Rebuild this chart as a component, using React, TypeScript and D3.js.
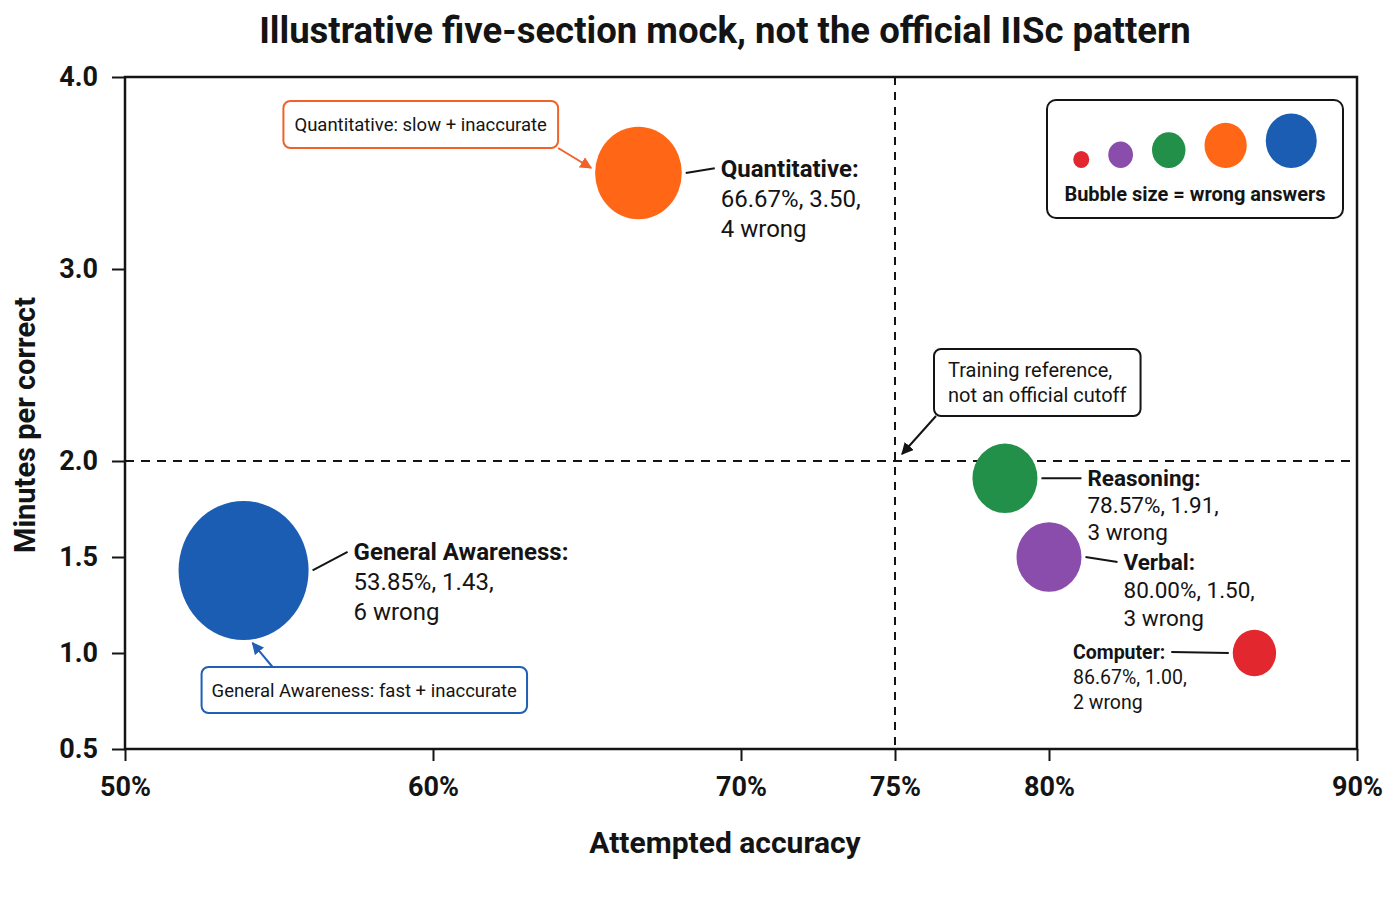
import React, { useEffect, useRef } from "react";
import * as d3 from "d3";

// section data
const sections = ["Quantitative", "General Awareness", "Reasoning", "Verbal", "Computer"];
const accuracy = [66.67, 53.85, 78.57, 80.0, 86.67];
const minutesPerCorrect = [3.5, 1.43, 1.91, 1.5, 1.0];
const wrongAnswers = [4, 6, 3, 3, 2];
const sectionColors = ["#ff6616", "#1b5db2", "#23904a", "#8a4dab", "#e2282e"];

const xTicks = [50, 60, 70, 75, 80, 90];
const yTicks = [0.5, 1.0, 1.5, 2.0, 3.0, 4.0];
const accuracyRef = 75;
const minutesRef = 2.0;

const legendSteps = [2, 3, 4, 5, 6];
const legendColors = ["#e2282e", "#8a4dab", "#23904a", "#ff6616", "#1b5db2"];

const FONT = 'Roboto, "Liberation Sans", "DejaVu Sans", sans-serif';
const INK = "#141414";

// label placement per section (side: 1 = right of bubble, -1 = left)
const labelLayout: Record<string, { side: number; gap: number; dy: number; size: number; lh: number }> = {
  Quantitative: { side: 1, gap: 39, dy: 4, size: 24, lh: 30 },
  "General Awareness": { side: 1, gap: 45, dy: -10, size: 24, lh: 30 },
  Reasoning: { side: 1, gap: 50, dy: 8, size: 22.5, lh: 27 },
  Verbal: { side: 1, gap: 42, dy: 13, size: 22.5, lh: 28 },
  Computer: { side: -1, gap: 46, dy: 6, size: 19.5, lh: 25 },
};

const App: React.FC = () => {
  const svgRef = useRef<SVGSVGElement | null>(null);

  useEffect(() => {
    const width = 1400;
    const height = 900;
    const margin = { top: 77, right: 43, bottom: 151, left: 125 };
    const plotBottom = height - margin.bottom;
    const plotRight = width - margin.right;

    d3.select(svgRef.current).selectAll("*").remove();
    const svg = d3
      .select(svgRef.current)
      .attr("width", width)
      .attr("height", height)
      .attr("font-family", FONT);

    const x = d3.scaleLinear().domain([50, 90]).range([margin.left, plotRight]);
    const y = d3.scaleLinear().domain([0.5, 4]).range([plotBottom, margin.top]);
    const r = d3.scaleLinear().domain([0, 6]).range([0, 65]);
    const aspect = 1.07;

    const defs = svg.append("defs");
    const addMarker = (id: string, color: string) =>
      defs
        .append("marker")
        .attr("id", id)
        .attr("viewBox", "0 0 10 10")
        .attr("refX", 9)
        .attr("refY", 5)
        .attr("markerUnits", "userSpaceOnUse")
        .attr("markerWidth", 12)
        .attr("markerHeight", 12)
        .attr("orient", "auto")
        .append("path")
        .attr("d", "M0,0L10,5L0,10z")
        .attr("fill", color);
    addMarker("arrow-orange", "#f0622a");
    addMarker("arrow-blue", "#1f5fb5");
    addMarker("arrow-black", INK);

    // title
    svg
      .append("text")
      .attr("x", 725)
      .attr("y", 43)
      .attr("text-anchor", "middle")
      .attr("font-size", 36.5)
      .attr("font-weight", 700)
      .attr("fill", INK)
      .text("Illustrative five-section mock, not the official IISc pattern");

    // reference lines
    svg
      .append("line")
      .attr("x1", x(accuracyRef))
      .attr("x2", x(accuracyRef))
      .attr("y1", margin.top)
      .attr("y2", plotBottom)
      .attr("stroke", INK)
      .attr("stroke-width", 2)
      .attr("stroke-dasharray", "8 7");
    svg
      .append("line")
      .attr("x1", margin.left)
      .attr("x2", plotRight)
      .attr("y1", y(minutesRef))
      .attr("y2", y(minutesRef))
      .attr("stroke", INK)
      .attr("stroke-width", 2)
      .attr("stroke-dasharray", "9 7");

    // axes
    const yAxis = svg
      .append("g")
      .attr("transform", `translate(${margin.left},0)`)
      .call(
        d3
          .axisLeft(y)
          .tickValues(yTicks)
          .tickFormat((d: any) => d3.format(".1f")(d))
          .tickSize(13)
          .tickPadding(14)
      );
    yAxis.select(".domain").remove();
    yAxis.selectAll("line").attr("stroke", INK).attr("stroke-width", 2);
    yAxis
      .selectAll("text")
      .attr("font-family", FONT)
      .attr("font-size", 27)
      .attr("font-weight", 700)
      .attr("fill", INK);

    const xAxis = svg
      .append("g")
      .attr("transform", `translate(0,${plotBottom})`)
      .call(
        d3
          .axisBottom(x)
          .tickValues(xTicks)
          .tickFormat((d: any) => `${d}%`)
          .tickSize(12)
      );
    xAxis.select(".domain").remove();
    xAxis.selectAll("line").attr("stroke", INK).attr("stroke-width", 2);
    xAxis
      .selectAll("text")
      .attr("font-family", FONT)
      .attr("font-size", 27)
      .attr("font-weight", 700)
      .attr("fill", INK)
      .attr("y", 38)
      .attr("dy", "0.35em");

    // frame
    svg
      .append("rect")
      .attr("x", margin.left)
      .attr("y", margin.top)
      .attr("width", plotRight - margin.left)
      .attr("height", plotBottom - margin.top)
      .attr("fill", "none")
      .attr("stroke", INK)
      .attr("stroke-width", 2.5);

    // axis titles
    svg
      .append("text")
      .attr("x", 725)
      .attr("y", 853)
      .attr("text-anchor", "middle")
      .attr("font-size", 30)
      .attr("font-weight", 700)
      .attr("fill", INK)
      .text("Attempted accuracy");
    svg
      .append("text")
      .attr("transform", `translate(35,${(margin.top + plotBottom) / 2 + 12}) rotate(-90)`)
      .attr("text-anchor", "middle")
      .attr("font-size", 29)
      .attr("font-weight", 700)
      .attr("fill", INK)
      .text("Minutes per correct");

    const points = sections.map((name, i) => {
      const rx = r(wrongAnswers[i]);
      return {
        name,
        acc: accuracy[i],
        mins: minutesPerCorrect[i],
        wrong: wrongAnswers[i],
        color: sectionColors[i],
        cx: x(accuracy[i]),
        cy: y(minutesPerCorrect[i]),
        rx,
        ry: rx * aspect,
      };
    });

    // bubbles, largest first
    svg
      .append("g")
      .selectAll("ellipse")
      .data([...points].sort((a, b) => b.wrong - a.wrong))
      .join("ellipse")
      .attr("cx", (d) => d.cx)
      .attr("cy", (d) => d.cy)
      .attr("rx", (d) => d.rx)
      .attr("ry", (d) => d.ry)
      .attr("fill", (d) => d.color);

    // point labels (left-aligned text blocks, placed left or right of the bubble)
    points.forEach((p) => {
      const L = labelLayout[p.name];
      const base = p.cy + L.dy;
      const lines = [`${p.name}:`, `${p.acc.toFixed(2)}%, ${p.mins.toFixed(2)},`, `${p.wrong} wrong`];
      const t = svg.append("text").attr("font-size", L.size).attr("fill", INK);
      lines.forEach((line, k) => {
        t.append("tspan")
          .attr("x", 0)
          .attr("y", base + k * L.lh)
          .attr("font-weight", k === 0 ? 700 : 400)
          .text(line);
      });
      const blockW = (t.node() as SVGTextElement).getBBox().width;
      const firstW = (t.select("tspan").node() as SVGTSpanElement).getComputedTextLength();
      const tx = L.side > 0 ? p.cx + p.rx + L.gap : p.cx - p.rx - L.gap - blockW;
      t.selectAll("tspan").attr("x", tx);
      svg
        .append("line")
        .attr("x1", p.cx + L.side * (p.rx + 4))
        .attr("y1", p.cy)
        .attr("x2", L.side > 0 ? tx - 6 : tx + firstW + 6)
        .attr("y2", base - L.size * 0.36)
        .attr("stroke", INK)
        .attr("stroke-width", 2);
    });

    // callout boxes
    const callout = (lines: string[], color: string, size: number, lh: number, padX: number, h: number) => {
      const g = svg.append("g");
      const rect = g.append("rect");
      const t = g.append("text").attr("font-size", size).attr("fill", INK);
      lines.forEach((line, k) =>
        t.append("tspan").attr("x", padX).attr("y", h / 2 + size * 0.36 + (k - (lines.length - 1) / 2) * lh).text(line)
      );
      const w = (t.node() as SVGTextElement).getBBox().width + 2 * padX;
      rect
        .attr("width", w)
        .attr("height", h)
        .attr("rx", 7)
        .attr("fill", "white")
        .attr("stroke", color)
        .attr("stroke-width", 2);
      return { g, w, h };
    };
    const arrow = (x1: number, y1: number, x2: number, y2: number, color: string, id: string) =>
      svg
        .append("line")
        .attr("x1", x1)
        .attr("y1", y1)
        .attr("x2", x2)
        .attr("y2", y2)
        .attr("stroke", color)
        .attr("stroke-width", 2)
        .attr("marker-end", `url(#${id})`);

    const quant = points[0];
    const qBox = callout(["Quantitative: slow + inaccurate"], "#f0622a", 18.5, 24, 11, 47);
    const qx = quant.cx - quant.rx - 37 - qBox.w;
    const qy = quant.cy - 72;
    qBox.g.attr("transform", `translate(${qx},${qy})`);
    arrow(qx + qBox.w, qy + qBox.h, quant.cx - quant.rx - 4, quant.cy - 5, "#f0622a", "arrow-orange");

    const ga = points[1];
    const gBox = callout(["General Awareness: fast + inaccurate"], "#1f5fb5", 18.5, 24, 10, 46);
    const gx = ga.cx - 42;
    const gy = plotBottom - 82;
    gBox.g.attr("transform", `translate(${gx},${gy})`);
    arrow(gx + 71, gy, ga.cx + 9, ga.cy + ga.ry + 3, "#1f5fb5", "arrow-blue");

    const rx0 = x(accuracyRef);
    const ry0 = y(minutesRef);
    const tBox = callout(["Training reference,", "not an official cutoff"], INK, 20, 25, 14, 67);
    const tx0 = rx0 + 39;
    const ty0 = ry0 - 112;
    tBox.g.attr("transform", `translate(${tx0},${ty0})`);
    arrow(tx0 + 2, ty0 + tBox.h, rx0 + 7, ry0 - 7, INK, "arrow-black");

    // size legend
    const legendW = 296;
    const legendH = 118;
    const lx = plotRight - 14 - legendW;
    const ly = 100;
    const legend = svg.append("g").attr("transform", `translate(${lx},${ly})`);
    legend
      .append("rect")
      .attr("width", legendW)
      .attr("height", legendH)
      .attr("rx", 9)
      .attr("fill", "white")
      .attr("stroke", INK)
      .attr("stroke-width", 2);
    const lr = d3.scaleLinear().domain([2, 6]).range([8, 25.5]);
    const gap = 19;
    const rowW = d3.sum(legendSteps, (s) => 2 * lr(s)) + gap * (legendSteps.length - 1);
    let cursor = (legendW - rowW) / 2;
    legendSteps.forEach((s, i) => {
      const rr = lr(s);
      legend
        .append("ellipse")
        .attr("cx", cursor + rr)
        .attr("cy", 68 - rr * aspect)
        .attr("rx", rr)
        .attr("ry", rr * aspect)
        .attr("fill", legendColors[i]);
      cursor += 2 * rr + gap;
    });
    legend
      .append("text")
      .attr("x", legendW / 2)
      .attr("y", 101)
      .attr("text-anchor", "middle")
      .attr("font-size", 20)
      .attr("font-weight", 700)
      .attr("fill", INK)
      .text("Bubble size = wrong answers");
  }, []);

  return (
    <svg
      ref={svgRef}
      style={{ position: "absolute", left: 0, top: 0, background: "white" }}
    ></svg>
  );
};

export default App;
